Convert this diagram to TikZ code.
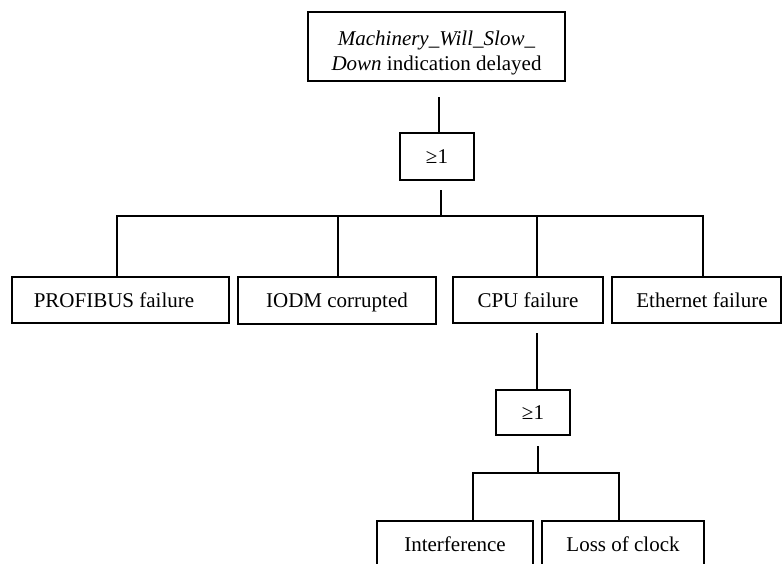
\documentclass[tikz,border=0pt]{standalone}
\usepackage{fontspec}
\setmainfont{Liberation Serif}
\begin{document}
\begin{tikzpicture}[x=1pt,y=-1pt,
  box/.style={draw,line width=1.7pt,rectangle,inner sep=0pt,font=\fontsize{21}{25}\selectfont},
  one/.style={box,text height=14pt,text depth=0pt},
  conn/.style={line width=1.5pt}]
\useasboundingbox (0,0) rectangle (782,563);
\clip (0,0) rectangle (782,563);
\fill[white] (0,0) rectangle (782,563);
% nodes
\node[box,minimum width=257pt,minimum height=69pt] (top) at (436.5,46.5)
  {\raisebox{-6pt}[\height][\depth]{\begin{tabular}{@{}c@{}}\textit{Machinery\_Will\_Slow\_}\\\textit{Down} indication delayed\end{tabular}}};
\node[one,minimum width=74pt,minimum height=47pt] (g1) at (437,156.5) {≥1};
\node[one,minimum width=217pt,minimum height=46pt] (pf) at (120.5,300) {\kern-6.5pt PROFIBUS failure\kern6.5pt};
\node[one,minimum width=198pt,minimum height=47pt] (io) at (337,300.5) {IODM corrupted};
\node[one,minimum width=150pt,minimum height=46pt] (cpu) at (528,300) {CPU failure};
\node[one,minimum width=169pt,minimum height=46pt] (eth) at (696.5,300) {\kern5.5pt Ethernet failure\kern-5.5pt};
\node[one,minimum width=74pt,minimum height=45pt] (g2) at (533,412.5) {≥1};
\node[one,minimum width=156pt,minimum height=46pt] (intf) at (455,544) {Interference};
\node[one,minimum width=162pt,minimum height=46pt] (loss) at (623,544) {Loss of clock};
% coordinates
\coordinate (c1) at (439,97);
\coordinate (c2) at (441,190);
\coordinate (j1) at (441,216);
\coordinate (b1l) at (117,216);
\coordinate (b1a) at (338,216);
\coordinate (b1b) at (537,216);
\coordinate (b1r) at (703,216);
\coordinate (c3) at (537,333);
\coordinate (c4) at (538,446);
\coordinate (j2) at (538,473);
\coordinate (b2l) at (473,473);
\coordinate (b2r) at (619,473);
% connectors
\draw[conn] (c1) -- (c1 |- g1.north);
\draw[conn] (c2) -- (j1);
\draw[conn] (b1l |- pf.north) -- (b1l) -- (b1r) -- (b1r |- eth.north);
\draw[conn] (b1a) -- (b1a |- io.north);
\draw[conn] (b1b) -- (b1b |- cpu.north);
\draw[conn] (c3) -- (c3 |- g2.north);
\draw[conn] (c4) -- (j2);
\draw[conn] (b2l |- intf.north) -- (b2l) -- (b2r) -- (b2r |- loss.north);
\end{tikzpicture}
\end{document}
